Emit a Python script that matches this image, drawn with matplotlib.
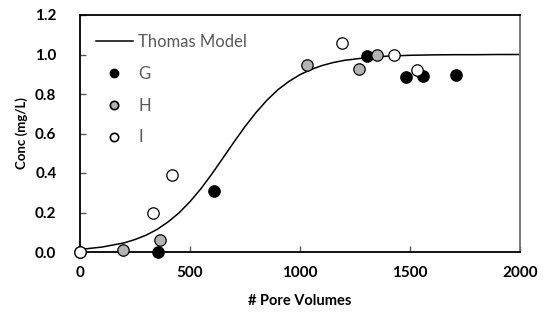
import matplotlib
matplotlib.use('Agg')
import matplotlib.pyplot as plt
from matplotlib.lines import Line2D

plt.rcParams['font.family'] = ['Lato', 'DejaVu Sans']

# Thomas model curve
model_x = [0, 100, 200, 250, 300, 350, 400, 450, 500, 550, 600, 650, 700, 750, 800,
           850, 900, 950, 1000, 1050, 1100, 1150, 1200, 1300, 1400, 1500, 1600,
           1700, 1800, 1900, 2000]
model_y = [0.013, 0.025, 0.046, 0.063, 0.085, 0.114, 0.152, 0.198, 0.255, 0.321, 0.396,
           0.476, 0.557, 0.635, 0.706, 0.769, 0.822, 0.864, 0.898, 0.924, 0.944, 0.959,
           0.970, 0.984, 0.992, 0.996, 0.998, 0.999, 0.999, 1.000, 1.000]

g_x = [353, 609, 1306, 1480, 1561, 1709]
g_y = [0.0, 0.31, 0.99, 0.885, 0.893, 0.896]
h_x = [0, 197, 362, 1033, 1268, 1348]
h_y = [0.0, 0.01, 0.06, 0.945, 0.925, 1.00]
i_x = [0, 330, 417, 1189, 1427, 1530]
i_y = [0.0, 0.20, 0.39, 1.06, 1.00, 0.92]

fig = plt.figure(figsize=(5.49, 3.21), dpi=100)
ax = fig.add_axes([80/549, 69/321, 440/549, 237/321])

ax.plot(model_x, model_y, color='black', lw=1.1, zorder=2)
ms = 8.2
ax.plot(g_x, g_y, 'o', ms=ms, mfc='black', mec='black', mew=0.9, clip_on=False, zorder=3)
ax.plot(h_x, h_y, 'o', ms=ms, mfc='#b3b3b3', mec='black', mew=0.9, clip_on=False, zorder=3)
ax.plot(i_x, i_y, 'o', ms=ms, mfc='white', mec='black', mew=0.9, clip_on=False, zorder=3)

ax.set_xlim(0, 2000)
ax.set_ylim(0, 1.2)
ax.set_xticks([0, 500, 1000, 1500, 2000])
ax.set_yticks([0, 0.2, 0.4, 0.6, 0.8, 1.0, 1.2])
ax.set_yticklabels(['0.0', '0.2', '0.4', '0.6', '0.8', '1.0', '1.2'])
ax.tick_params(direction='in', length=4, width=1, color='#595959', labelsize=11)
ax.tick_params(axis='x', pad=10)
ax.tick_params(axis='y', pad=17)
for lab in ax.get_xticklabels() + ax.get_yticklabels():
    lab.set_fontweight('bold')

for side in ['left', 'bottom', 'top']:
    ax.spines[side].set_color('black')
    ax.spines[side].set_linewidth(1.3)
ax.spines['right'].set_color('#707070')
ax.spines['right'].set_linewidth(1.3)

ax.set_xlabel('# Pore Volumes', fontsize=10.5, fontweight='bold', labelpad=10)
ax.set_ylabel('Conc (mg/L)', fontsize=9.5, fontweight='bold', labelpad=5)

handles = [
    Line2D([], [], color='black', lw=1.1),
    Line2D([], [], ls='', marker='o', ms=6, mfc='black', mec='black'),
    Line2D([], [], ls='', marker='o', ms=6, mfc='#b3b3b3', mec='black', mew=1.2),
    Line2D([], [], ls='', marker='o', ms=6, mfc='white', mec='black', mew=1.2),
]
leg = ax.legend(handles, ['Thomas Model', 'G', 'H', 'I'], loc='upper left',
                bbox_to_anchor=(0.036, 0.92), frameon=False, borderpad=0,
                borderaxespad=0, fontsize=12, handlelength=2.2,
                handletextpad=0.35, labelspacing=0.95)
for t in leg.get_texts():
    t.set_color('#595959')

fig.savefig('out.png', dpi=100)
